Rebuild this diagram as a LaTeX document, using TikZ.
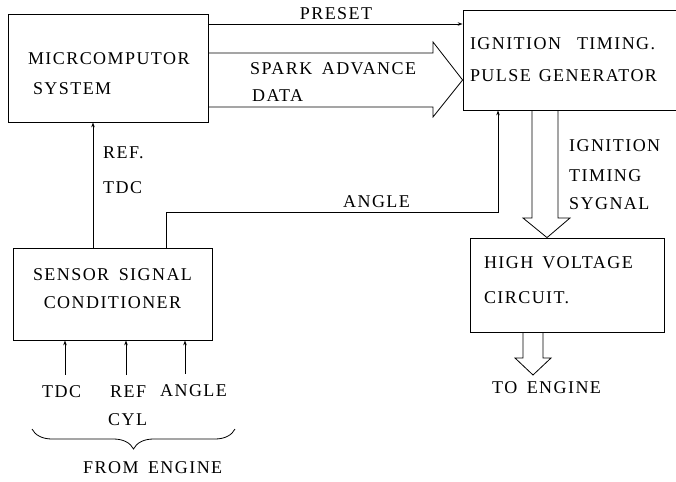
\documentclass[tikz,border=0pt]{standalone}
\usepackage{fontspec}
\newfontfamily\diagfont[LetterSpace=8,WordSpace=1.6]{Liberation Serif}
\usetikzlibrary{arrows.meta,decorations.pathreplacing}

\begin{document}
\begin{tikzpicture}[x=1pt,y=-1pt,
  blk/.style={draw,line width=0.8pt,inner sep=0pt,
              font=\diagfont\fontsize{18}{30}\selectfont},
  a/.style={-{Stealth[length=5pt,width=3.5pt]},line width=0.8pt},
  hol/.style={line width=0.8pt,line join=miter},
  note/.style={inner sep=0pt,anchor=base west,font=\diagfont\fontsize{18}{20}\selectfont}]
\clip (0,0) rectangle (676,481);
% blocks
\node[blk,minimum width=200pt,minimum height=108pt,text width=160pt,align=left] (mcs) at (108,68)
  {\rule{0pt}{24pt}MICRCOMPUTOR\\\hspace*{5pt}SYSTEM};
\node[blk,minimum width=217pt,minimum height=100pt,text width=203pt,align=left] (itpg) at (571.5,60)
  {IGNITION\hspace{16pt}TIMING.\\[2pt]PULSE\hspace{8pt}GENERATOR};
\node[blk,minimum width=199pt,minimum height=92pt,align=center] (ssc) at (112.5,294)
  {SENSOR SIGNAL\\[-2pt]CONDITIONER\rule[-11pt]{0pt}{11pt}};
\node[blk,minimum width=194pt,minimum height=94pt,text width=166pt,align=left] (hvc) at (567,285)
  {HIGH\hspace{9pt}VOLTAGE\\[5pt]CIRCUIT.\rule[-10pt]{0pt}{10pt}};
% microcomputer -> pulse generator
\draw[a] (mcs.east |- 0,24) -- (itpg.west |- 0,24);
\node[note,anchor=base] (preset) at (336,20) {PRESET};
\draw[hol] (mcs.east |- 0,53) -- (433,53) -- (433,42) -- (itpg.west |- 0,80)
  -- (433,117) -- (433,107) -- (mcs.east |- 0,107);
\node[note] (spark) at (250,75) {SPARK ADVANCE};
\node[note] (data) at (252,102) {DATA};
% sensor conditioner outputs
\draw[a] (ssc.north -| 93,0) -- (mcs.south -| 93,0);
\node[note] (reftxt) at (103,158) {REF.};
\node[note] (tdctxt) at (103,193) {TDC};
\draw[a] (ssc.north -| 166,0) |- (498,212) -- (itpg.south -| 498,0);
\node[note] (angtxt) at (343,207) {ANGLE};
% timing signal
\draw[hol] (itpg.south -| 532,0) -- (532,218) -- (523,218) -- (hvc.north -| 547,0)
  -- (570,218) -- (558,218) -- (itpg.south -| 558,0);
\node[note] (sig1) at (569,152) {IGNITION};
\node[note] (sig2) at (569,181) {TIMING};
\node[note] (sig3) at (569,209) {SYGNAL};
\coordinate (toeng) at (533,375);
\draw[hol] (hvc.south -| 523,0) -- (523,358) -- (515,358) -- (toeng)
  -- (551,358) -- (543,358) -- (hvc.south -| 543,0);
\node[note] (engout) at (492,393) {TO ENGINE};
% engine inputs
\node[note] (tdcin) at (42,397) {TDC};
\node[note] (refin) at (110,397) {REF};
\node[note] (angin) at (160,396) {ANGLE};
\node[note] (cylin) at (108,425) {CYL};
\draw[a,shorten <=10pt] (tdcin.north -| 65,0) -- (ssc.south -| 65,0);
\draw[a,shorten <=10pt] (refin.north -| 126,0) -- (ssc.south -| 126,0);
\draw[a,shorten <=10pt] (angin.north -| 185,0) -- (ssc.south -| 185,0);
\draw[line width=0.8pt,decorate,decoration={brace,mirror,amplitude=20pt}] (32,429) -- (235,429);
\node[note] (fromeng) at (83,473) {FROM ENGINE};
\end{tikzpicture}
\end{document}
